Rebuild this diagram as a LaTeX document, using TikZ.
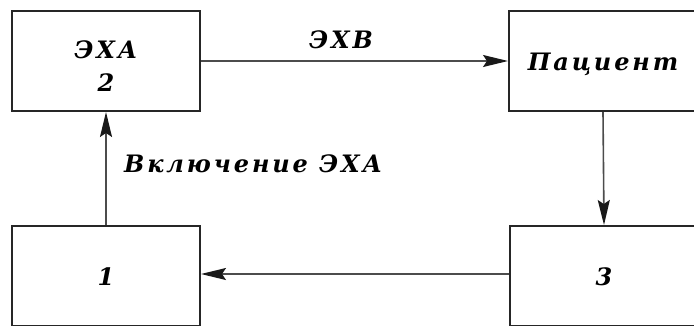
\documentclass[tikz,border=0pt]{standalone}
\usepackage{fontspec}
\setmainfont{DejaVu Serif}
\usetikzlibrary{arrows.meta}
\tikzset{
  blk/.style={draw=black!85, line width=2pt, minimum width=188pt, minimum height=100pt, inner sep=0pt},
  lbl/.style={font=\fontsize{24}{33}\selectfont\bfseries\itshape\addfontfeatures{LetterSpace=12}, align=center, inner sep=0pt},
  conn/.style={draw=black!70, line width=1.6pt, -{Stealth[length=25pt,width=12pt,inset=4pt,color=black!90]}}
}
\begin{document}
\begin{tikzpicture}[x=1pt,y=1pt]
\useasboundingbox (0,0) rectangle (694,-325);
\clip (0,0) rectangle (694,-325);
\node[blk] (a) at (106,-61) {};
\node[blk] (p) at (603,-61) {};
\node[blk] (one) at (106,-276) {};
\node[blk] (three) at (604,-276) {};
\node[lbl] (ta) at (106,-66) {ЭХА\\2};
\node[lbl] (tp) at (603,-64) {Пациент};
\node[lbl] (t1) at (106,-277) {1};
\node[lbl] (t3) at (604,-277) {3};
\draw[conn] (a.east |- 0,-61) -- (p.west |- 0,-61);
\node[lbl] (lx) at (341,-40) {ЭХВ};
\draw[conn] (p.south) -- (three.north);
\draw[conn] (three.west |- 0,-274) -- (one.east |- 0,-274);
\draw[conn] (one.north) -- (a.south);
\node[lbl, anchor=west] (lv) at (124,-164) {Включение ЭХА};
\end{tikzpicture}
\end{document}
